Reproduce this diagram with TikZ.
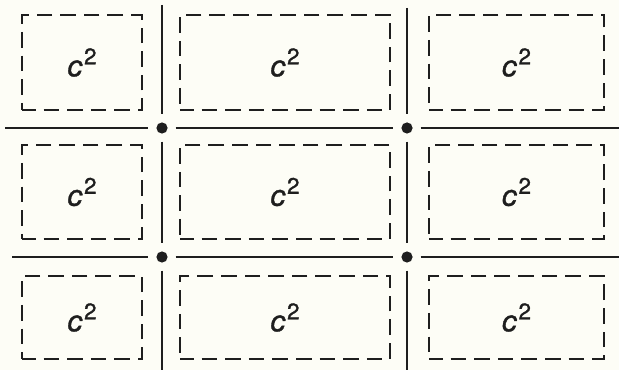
\documentclass[tikz,border=0pt]{standalone}
\usepackage{fontspec}
\setmainfont{TeX Gyre Heros}
\definecolor{paper}{RGB}{253,253,246}
\definecolor{ink}{RGB}{30,30,30}
\newcommand{\csq}{{\fontsize{42}{42}\selectfont\itshape\addfontfeatures{FakeBold=1.2}c}\kern2.5pt\raisebox{17pt}{\fontsize{32}{32}\selectfont\addfontfeatures{FakeBold=1.2}2}}

\begin{document}
\begin{tikzpicture}[cell/.style={draw=ink,line width=.12cm,dash pattern=on .78cm off .4cm,dash phase=.1cm,text=ink,inner sep=0pt},rule/.style={draw=ink,line width=.13cm,shorten <=.4cm,shorten >=.4cm},dot/.style={circle,fill=ink,minimum size=.56cm,inner sep=0pt}]
\fill[paper] (0,0) rectangle (30.95,18.5);
\useasboundingbox (0,0) rectangle (30.95,18.5);
% dashed cells
\node[cell,minimum width=6cm,minimum height=4.75cm] (a1) at (4.1,15.375) {\csq};
\node[cell,minimum width=10.5cm,minimum height=4.75cm] (a2) at (14.25,15.375) {\csq};
\node[cell,minimum width=8.75cm,minimum height=4.75cm] (a3) at (25.825,15.375) {\csq};
\node[cell,minimum width=6cm,minimum height=4.7cm] (b1) at (4.1,8.9) {\csq};
\node[cell,minimum width=10.5cm,minimum height=4.7cm] (b2) at (14.25,8.9) {\csq};
\node[cell,minimum width=8.75cm,minimum height=4.7cm] (b3) at (25.825,8.9) {\csq};
\node[cell,minimum width=6cm,minimum height=4.15cm] (c1) at (4.1,2.625) {\csq};
\node[cell,minimum width=10.5cm,minimum height=4.15cm] (c2) at (14.25,2.625) {\csq};
\node[cell,minimum width=8.75cm,minimum height=4.15cm] (c3) at (25.825,2.625) {\csq};
% junctions
\node[dot] (p1) at (8.1,12.1) {};
\node[dot] (p2) at (20.35,12.1) {};
\node[dot] (p3) at (8.1,5.65) {};
\node[dot] (p4) at (20.35,5.65) {};
% free ends of the rules
\coordinate (t1) at (8.1,18.25);
\coordinate (t2) at (20.35,18.1);
\coordinate (u1) at (8.1,0);
\coordinate (u2) at (20.35,0);
\coordinate (l1) at (0.25,12.1);
\coordinate (l2) at (0.6,5.65);
\coordinate (r1) at (30.95,12.1);
\coordinate (r2) at (30.95,5.65);
% rules
\draw[rule,shorten <=0pt] (t1)--(p1); \draw[rule] (p1)--(p3); \draw[rule,shorten >=0pt] (p3)--(u1);
\draw[rule,shorten <=0pt] (t2)--(p2); \draw[rule] (p2)--(p4); \draw[rule,shorten >=0pt] (p4)--(u2);
\draw[rule,shorten <=0pt] (l1)--(p1); \draw[rule] (p1)--(p2); \draw[rule,shorten >=0pt] (p2)--(r1);
\draw[rule,shorten <=0pt] (l2)--(p3); \draw[rule] (p3)--(p4); \draw[rule,shorten >=0pt] (p4)--(r2);
\end{tikzpicture}
\end{document}
